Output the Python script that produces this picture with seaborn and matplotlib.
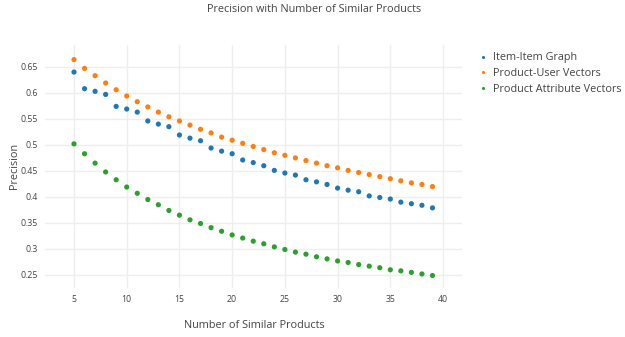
import matplotlib
matplotlib.use("Agg")
import matplotlib.pyplot as plt
import seaborn as sns
import pandas as pd

k_values = list(range(5, 40))
item_item_graph = [0.640, 0.608, 0.603, 0.597, 0.574, 0.569, 0.563, 0.546, 0.540, 0.535,
                   0.519, 0.513, 0.508, 0.494, 0.488, 0.483, 0.471, 0.466, 0.460, 0.451,
                   0.446, 0.442, 0.433, 0.429, 0.424, 0.417, 0.413, 0.410, 0.402, 0.399,
                   0.396, 0.390, 0.387, 0.384, 0.379]
product_user_vectors = [0.664, 0.647, 0.633, 0.619, 0.606, 0.594, 0.583, 0.573, 0.563, 0.554,
                        0.546, 0.538, 0.530, 0.523, 0.515, 0.509, 0.503, 0.497, 0.491, 0.485,
                        0.480, 0.475, 0.470, 0.465, 0.460, 0.456, 0.451, 0.447, 0.443, 0.439,
                        0.435, 0.431, 0.427, 0.424, 0.420]
product_attribute_vectors = [0.502, 0.483, 0.465, 0.448, 0.433, 0.419, 0.407, 0.395, 0.385, 0.374,
                             0.365, 0.356, 0.349, 0.341, 0.334, 0.327, 0.321, 0.315, 0.310, 0.304,
                             0.299, 0.294, 0.290, 0.285, 0.281, 0.277, 0.274, 0.270, 0.267, 0.264,
                             0.260, 0.258, 0.255, 0.252, 0.249]
series_names = ["Item-Item Graph", "Product-User Vectors", "Product Attribute Vectors"]
x_ticks = [5, 10, 15, 20, 25, 30, 35, 40]
y_ticks = [0.25, 0.3, 0.35, 0.4, 0.45, 0.5, 0.55, 0.6, 0.65]
y_tick_labels = ["0.25", "0.3", "0.35", "0.4", "0.45", "0.5", "0.55", "0.6", "0.65"]

frames = []
for name, vals in zip(series_names, [item_item_graph, product_user_vectors, product_attribute_vectors]):
    frames.append(pd.DataFrame({"k": k_values, "precision": vals, "series": name}))
df = pd.concat(frames, ignore_index=True)

sns.set_theme(style="white")
plt.rcParams["font.family"] = ["Open Sans", "DejaVu Sans"]

W, H = 625, 337
fig = plt.figure(figsize=(W / 100, H / 100), dpi=100)
ax = fig.add_axes([45 / W, 1 - 288 / H, (462 - 45) / W, (288 - 45) / H])

palette = ["#1f77b4", "#ff7f0e", "#2ca02c"]
sns.scatterplot(data=df, x="k", y="precision", hue="series", hue_order=series_names,
                palette=palette, s=14, linewidth=0, ax=ax, zorder=3)

ax.set_xlim(2.25, 41.8)
ax.set_ylim(0.225, 0.692)
ax.set_xticks(x_ticks)
ax.set_xticklabels([str(t) for t in x_ticks])
ax.set_yticks(y_ticks)
ax.set_yticklabels(y_tick_labels)
ax.grid(True, color="#eeeeee", linewidth=1)
ax.set_axisbelow(True)
for s in ax.spines.values():
    s.set_visible(False)
ax.tick_params(axis="both", length=0, labelsize=6.3, colors="#444444", pad=5)

ax.set_xlabel("Number of Similar Products", fontsize=7.8, color="#444444")
ax.xaxis.set_label_coords(254 / W, 1 - 325 / H, transform=fig.transFigure)
ax.xaxis.label.set_va("center")
ax.set_ylabel("Precision", fontsize=7.8, color="#444444")
ax.yaxis.set_label_coords(14 / W, 1 - 166 / H, transform=fig.transFigure)
ax.yaxis.label.set_va("center")
fig.text(314 / W, 1 - 10 / H, "Precision with Number of Similar Products",
         ha="center", va="center", fontsize=7.8, color="#444444")

leg = ax.legend(loc="upper left", bbox_to_anchor=(471 / W, 1 - 48 / H),
                bbox_transform=fig.transFigure, frameon=False, fontsize=7.8,
                handletextpad=0.15, labelspacing=0.45, markerscale=0.6, borderaxespad=0,
                handlelength=1.5)
for t in leg.get_texts():
    t.set_color("#444444")

fig.savefig("out.png", dpi=100)
